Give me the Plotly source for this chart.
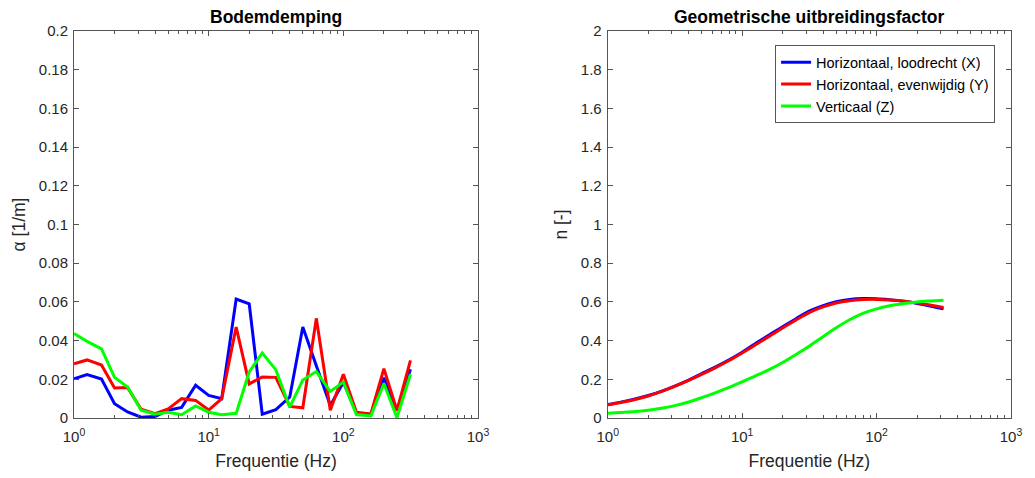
import plotly.graph_objects as go

# One-third octave band centre frequencies (Hz)
freq = [1, 1.25, 1.6, 2, 2.5, 3.15, 4, 5, 6.3, 8, 10, 12.5, 16, 20, 25, 31.5,
        40, 50, 63, 80, 100, 125, 160, 200, 250, 315]

# Soil damping alpha [1/m]
alpha_x = [0.0203, 0.0224, 0.0201, 0.0074, 0.0031, 0.0004, 0.0008, 0.0040, 0.0055, 0.0169,
           0.0117, 0.0100, 0.0615, 0.0590, 0.0020, 0.0043, 0.0108, 0.0470, 0.0270, 0.0065,
           0.0185, 0.0025, 0.0018, 0.0208, 0.0038, 0.0252]
alpha_y = [0.0280, 0.0300, 0.0274, 0.0155, 0.0157, 0.0045, 0.0022, 0.0047, 0.0100, 0.0091,
           0.0041, 0.0100, 0.0470, 0.0176, 0.0212, 0.0210, 0.0060, 0.0053, 0.0515, 0.0040,
           0.0226, 0.0030, 0.0021, 0.0255, 0.0039, 0.0298]
alpha_z = [0.0436, 0.0396, 0.0357, 0.0210, 0.0160, 0.0040, 0.0020, 0.0030, 0.0017, 0.0062,
           0.0030, 0.0017, 0.0024, 0.0238, 0.0336, 0.0250, 0.0056, 0.0196, 0.0240, 0.0137,
           0.0186, 0.0018, 0.0011, 0.0178, 0.0002, 0.0226]

# Geometric spreading factor n [-]
n_x = [0.070, 0.082, 0.098, 0.116, 0.138, 0.165, 0.196, 0.229, 0.263, 0.301,
       0.340, 0.384, 0.430, 0.472, 0.512, 0.552, 0.581, 0.601, 0.613, 0.617,
       0.616, 0.611, 0.603, 0.592, 0.579, 0.564]
n_y = [0.068, 0.080, 0.096, 0.114, 0.136, 0.163, 0.194, 0.225, 0.259, 0.297,
       0.336, 0.377, 0.423, 0.465, 0.505, 0.545, 0.574, 0.594, 0.606, 0.612,
       0.613, 0.610, 0.604, 0.595, 0.584, 0.571]
n_z = [0.024, 0.028, 0.033, 0.040, 0.050, 0.064, 0.083, 0.105, 0.130, 0.158,
       0.187, 0.217, 0.251, 0.287, 0.327, 0.371, 0.420, 0.466, 0.508, 0.542,
       0.564, 0.580, 0.592, 0.600, 0.605, 0.609]

names = ["Horizontaal, loodrecht (X)", "Horizontaal, evenwijdig (Y)", "Verticaal (Z)"]
colors = ["#0000ff", "#ff0000", "#00ff00"]

FONT = "Liberation Sans, Arial, sans-serif"
INK = "#262626"
AX = "#555555"

fig = go.Figure()
for i, a in enumerate([alpha_x, alpha_y, alpha_z]):
    fig.add_trace(go.Scatter(x=freq, y=a, mode="lines", name=names[i],
                             line=dict(color=colors[i], width=3),
                             xaxis="x", yaxis="y", showlegend=False))
for i, n in enumerate([n_x, n_y, n_z]):
    fig.add_trace(go.Scatter(x=freq, y=n, mode="lines", name=names[i],
                             line=dict(color=colors[i], width=3, shape="spline",
                                       smoothing=1.0),
                             xaxis="x2", yaxis="y2", showlegend=True))

minor_vals = [m * 10 ** e for e in range(3) for m in range(2, 10)]


def xaxis_style(domain, anchor):
    return dict(
        type="log", domain=domain, anchor=anchor, range=[0, 3],
        tickmode="array", tickvals=[1, 10, 100, 1000],
        ticktext=["10<sup>0</sup>", "10<sup>1</sup>", "10<sup>2</sup>", "10<sup>3</sup>"],
        ticks="inside", ticklen=5, tickcolor=AX, tickwidth=1,
        minor=dict(tickmode="array", tickvals=minor_vals, ticks="inside",
                   ticklen=3, tickcolor=AX, tickwidth=1, showgrid=False),
        showline=True, linecolor=AX, linewidth=1, mirror="ticks",
        showgrid=False, zeroline=False,
        tickfont=dict(family=FONT, size=15, color=INK),
        ticklabelstandoff=5,
        title=dict(text="Frequentie (Hz)", font=dict(family=FONT, size=17.5, color=INK),
                   standoff=10),
    )


def yaxis_style(domain, anchor, top, step, labels, title):
    vals = [round(k * step, 4) for k in range(len(labels))]
    return dict(
        domain=domain, anchor=anchor, range=[0, top],
        tickmode="array", tickvals=vals, ticktext=labels,
        ticks="inside", ticklen=5, tickcolor=AX, tickwidth=1,
        showline=True, linecolor=AX, linewidth=1, mirror="ticks",
        showgrid=False, zeroline=False,
        tickfont=dict(family=FONT, size=15, color=INK),
        ticklabelstandoff=2,
        title=dict(text=title, font=dict(family=FONT, size=17.5, color=INK), standoff=8),
    )


left_labels = ["0", "0.02", "0.04", "0.06", "0.08", "0.1", "0.12", "0.14", "0.16", "0.18", "0.2"]
right_labels = ["0", "0.2", "0.4", "0.6", "0.8", "1", "1.2", "1.4", "1.6", "1.8", "2"]

d1 = [0, 0.4312]
d2 = [0.5696, 1.0]

fig.update_layout(
    width=1035, height=478,
    margin=dict(l=74, r=24, t=31, b=60),
    paper_bgcolor="white", plot_bgcolor="white",
    font=dict(family=FONT, color=INK),
    xaxis=xaxis_style(d1, "y"),
    yaxis=yaxis_style([0, 1], "x", 0.2, 0.02, left_labels, "α [1/m]"),
    xaxis2=xaxis_style(d2, "y2"),
    yaxis2=yaxis_style([0, 1], "x2", 2, 0.2, right_labels, "n [-]"),
    legend=dict(x=0.983, y=0.963, xanchor="right", yanchor="top",
                bgcolor="white", bordercolor=AX, borderwidth=1,
                font=dict(family=FONT, size=14.5, color="#000000"),
                itemwidth=30, tracegroupgap=0),
    annotations=[
        dict(text="<b>Bodemdemping</b>", x=sum(d1) / 2, y=1, xref="paper", yref="paper",
             xanchor="center", yanchor="bottom", yshift=2, showarrow=False,
             font=dict(family=FONT, size=17.5, color="#000000")),
        dict(text="<b>Geometrische uitbreidingsfactor</b>", x=sum(d2) / 2, y=1,
             xref="paper", yref="paper", xanchor="center", yanchor="bottom", yshift=2,
             showarrow=False, font=dict(family=FONT, size=17.5, color="#000000")),
    ],
)

fig.write_html("out.html")
